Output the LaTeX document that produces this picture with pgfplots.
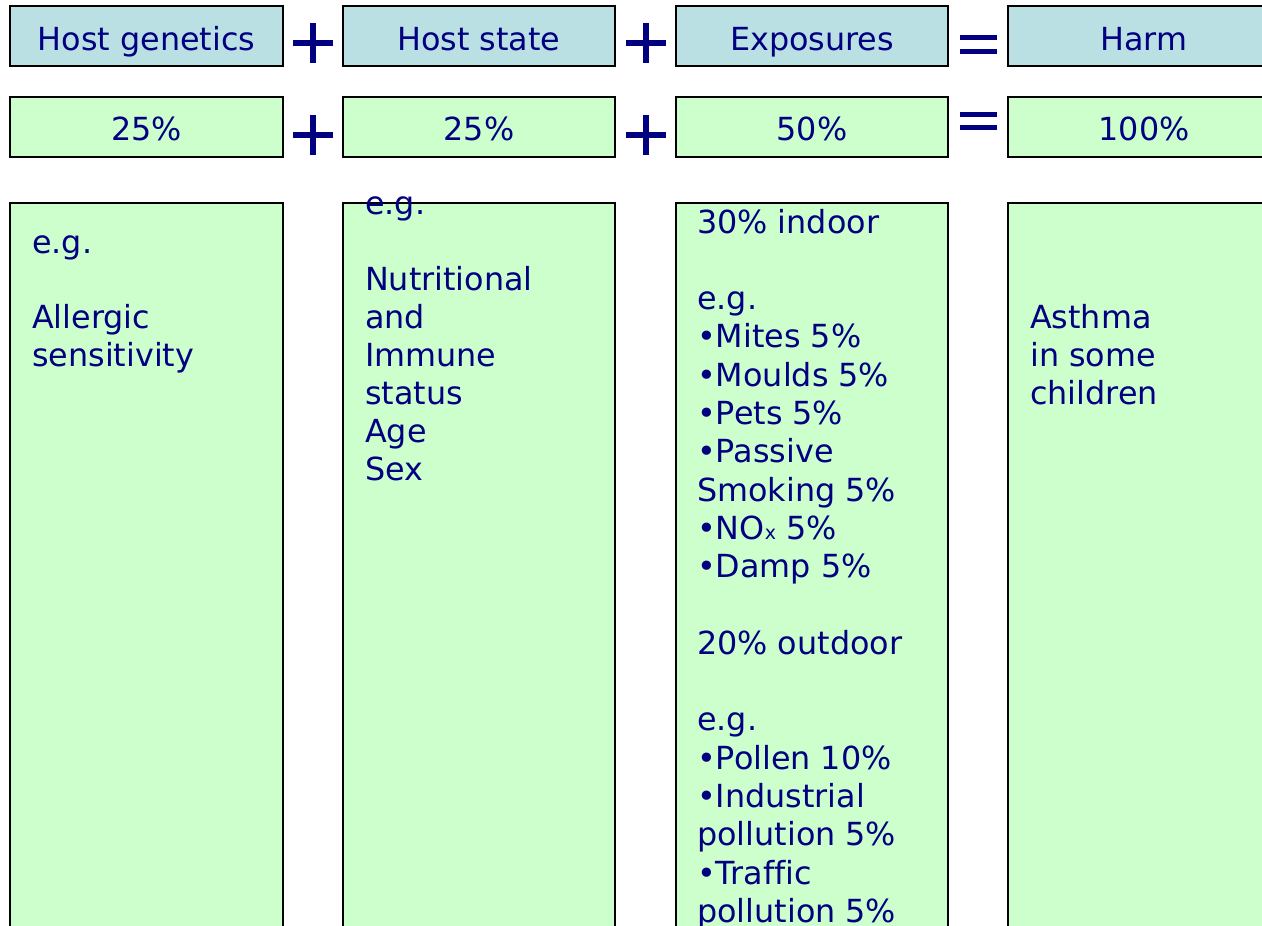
\documentclass[border=0pt]{standalone}
\usepackage{fontspec}
\setmainfont{DejaVu Sans}[Ligatures={NoCommon}]
\usepackage{pgfplots}
\pgfplotsset{compat=1.18}
\definecolor{hdr}{RGB}{187,224,227}
\definecolor{grn}{RGB}{204,255,204}
\definecolor{navy}{RGB}{0,0,128}
\newcommand{\tx}{\fontsize{31.8}{38}\selectfont}
\begin{document}
\begin{tikzpicture}
\begin{axis}[scale only axis, width=1262pt, height=926pt,
  xmin=0, xmax=1262, ymin=0, ymax=926, y dir=reverse,
  hide axis, clip=true,
  every axis plot/.append style={mark=none, line cap=rect, line join=miter},
]
% header row
\addplot[draw=black, line width=2pt, fill=hdr] coordinates {(10,6) (283,6) (283,66) (10,66) (10,6)};
\addplot[draw=black, line width=2pt, fill=hdr] coordinates {(343,6) (615,6) (615,66) (343,66) (343,6)};
\addplot[draw=black, line width=2pt, fill=hdr] coordinates {(676,6) (948,6) (948,66) (676,66) (676,6)};
\addplot[draw=black, line width=2pt, fill=hdr] coordinates {(1008,6) (1280,6) (1280,66) (1008,66) (1008,6)};
% percentage row
\addplot[draw=black, line width=2pt, fill=grn] coordinates {(10,97) (283,97) (283,157) (10,157) (10,97)};
\addplot[draw=black, line width=2pt, fill=grn] coordinates {(343,97) (615,97) (615,157) (343,157) (343,97)};
\addplot[draw=black, line width=2pt, fill=grn] coordinates {(676,97) (948,97) (948,157) (676,157) (676,97)};
\addplot[draw=black, line width=2pt, fill=grn] coordinates {(1008,97) (1280,97) (1280,157) (1008,157) (1008,97)};
% body boxes
\addplot[draw=black, line width=2pt, fill=grn] coordinates {(10,203) (283,203) (283,950) (10,950) (10,203)};
\addplot[draw=black, line width=2pt, fill=grn] coordinates {(343,203) (615,203) (615,950) (343,950) (343,203)};
\addplot[draw=black, line width=2pt, fill=grn] coordinates {(676,203) (948,203) (948,950) (676,950) (676,203)};
\addplot[draw=black, line width=2pt, fill=grn] coordinates {(1008,203) (1280,203) (1280,950) (1008,950) (1008,203)};
% plus signs
\addplot[draw=navy, line width=5.5pt, line cap=butt] coordinates {(293,43) (333,43)};
\addplot[draw=navy, line width=5.5pt, line cap=butt] coordinates {(313,23) (313,63)};
\addplot[draw=navy, line width=5.5pt, line cap=butt] coordinates {(626,43) (666,43)};
\addplot[draw=navy, line width=5.5pt, line cap=butt] coordinates {(646,23) (646,63)};
\addplot[draw=navy, line width=5.5pt, line cap=butt] coordinates {(293,135) (333,135)};
\addplot[draw=navy, line width=5.5pt, line cap=butt] coordinates {(313,115) (313,155)};
\addplot[draw=navy, line width=5.5pt, line cap=butt] coordinates {(626,135) (666,135)};
\addplot[draw=navy, line width=5.5pt, line cap=butt] coordinates {(646,115) (646,155)};
% equals signs
\addplot[draw=navy, line width=5pt, line cap=butt] coordinates {(960,37) (997,37)};
\addplot[draw=navy, line width=5pt, line cap=butt] coordinates {(960,51) (997,51)};
\addplot[draw=navy, line width=5pt, line cap=butt] coordinates {(960,114) (997,114)};
\addplot[draw=navy, line width=5pt, line cap=butt] coordinates {(960,127) (997,127)};
\begin{scope}[every node/.style={text=navy, font=\tx, inner sep=0pt}]
% header texts
\node[anchor=base] at (axis cs:146.5,50) {Host genetics};
\node[anchor=base] at (axis cs:479,50) {Host state};
\node[anchor=base] at (axis cs:812,50) {Exposures};
\node[anchor=base] at (axis cs:1144,50) {Harm};
\node[anchor=base] at (axis cs:146.5,140) {25\%};
\node[anchor=base] at (axis cs:479,140) {25\%};
\node[anchor=base] at (axis cs:812,140) {50\%};
\node[anchor=base] at (axis cs:1144,140) {100\%};
% column 1
\node[anchor=base west] at (axis cs:32,253) {e.g.};
\node[anchor=base west] at (axis cs:32,328) {Allergic};
\node[anchor=base west] at (axis cs:32,366) {sensitivity};
% column 2
\node[anchor=base west] at (axis cs:365,214) {e.g.};
\node[anchor=base west] at (axis cs:365,290) {Nutritional};
\node[anchor=base west] at (axis cs:365,328) {and};
\node[anchor=base west] at (axis cs:365,366) {Immune};
\node[anchor=base west] at (axis cs:365,404) {status};
\node[anchor=base west] at (axis cs:365,442) {Age};
\node[anchor=base west] at (axis cs:365,480) {Sex};
% column 3
\node[anchor=base west] at (axis cs:697,233) {30\% indoor};
\node[anchor=base west] at (axis cs:697,309.6) {e.g.};
\node[anchor=base west] at (axis cs:697,347.9) {•Mites 5\%};
\node[anchor=base west] at (axis cs:697,386.2) {•Moulds 5\%};
\node[anchor=base west] at (axis cs:697,424.5) {•Pets 5\%};
\node[anchor=base west] at (axis cs:697,462.8) {•Passive};
\node[anchor=base west] at (axis cs:697,501.1) {Smoking 5\%};
\node[anchor=base west] at (axis cs:697,539.4) {•NO{\fontsize{19}{19}\selectfont x} 5\%};
\node[anchor=base west] at (axis cs:697,577.7) {•Damp 5\%};
\node[anchor=base west] at (axis cs:697,654.3) {20\% outdoor};
\node[anchor=base west] at (axis cs:697,730.9) {e.g.};
\node[anchor=base west] at (axis cs:697,769.2) {•Pollen 10\%};
\node[anchor=base west] at (axis cs:697,807.5) {•Industrial};
\node[anchor=base west] at (axis cs:697,845.8) {pollution 5\%};
\node[anchor=base west] at (axis cs:697,884.1) {•Traffic};
\node[anchor=base west] at (axis cs:697,922.4) {pollution 5\%};
% column 4
\node[anchor=base west] at (axis cs:1030,328) {Asthma};
\node[anchor=base west] at (axis cs:1030,366) {in some};
\node[anchor=base west] at (axis cs:1030,404) {children};
\end{scope}
\end{axis}
\pgfresetboundingbox
\path[use as bounding box] (current axis.south west) rectangle (current axis.north east);
\end{tikzpicture}
\end{document}
